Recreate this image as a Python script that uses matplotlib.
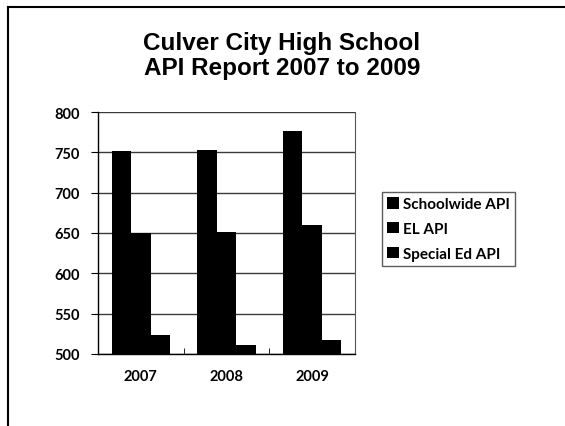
import matplotlib
matplotlib.use("Agg")
import matplotlib.pyplot as plt
import numpy as np
from matplotlib.lines import Line2D

years = ["2007", "2008", "2009"]
series_names = ["Schoolwide API", "EL API", "Special Ed API"]
schoolwide = [752, 753, 777]
el = [650, 651, 660]
special_ed = [524, 511, 517]

fig = plt.figure(figsize=(5.65, 4.27), dpi=100)
W, H = 565, 427
ax = fig.add_axes([98 / W, 1 - 355 / H, (355 - 98) / W, (355 - 113) / H])

x = np.arange(len(years))
bw = 0.227
for i, vals in enumerate([schoolwide, el, special_ed]):
    ax.bar(x + (i - 1) * bw, [v - 500 for v in vals], bw, bottom=500, color="black",
           label=series_names[i], zorder=3)

ax.set_xlim(-0.5, 2.5)
ax.set_ylim(500, 800)
ax.set_yticks(range(500, 801, 50))
ax.set_xticks(x)
ax.set_xticklabels(years)
ax.grid(axis="y", color="#3a3a3a", linewidth=1, zorder=1)
ax.set_axisbelow(True)
ax.spines["top"].set_visible(False)
ax.spines["right"].set_color("#555555")
ax.spines["left"].set_linewidth(1)
ax.spines["bottom"].set_linewidth(1)
ax.set_xticks([0.5, 1.5], minor=True)
ax.tick_params(axis="x", which="major", length=0, pad=11)
ax.tick_params(axis="x", which="minor", length=4, direction="in")
ax.tick_params(axis="y", length=5, direction="out", pad=8)
for lab in ax.get_xticklabels() + ax.get_yticklabels():
    lab.set_fontfamily("Lato")
    lab.set_fontweight("bold")
    lab.set_fontsize(10.5)

fig.text(282 / W, 1 - 56 / H, "Culver City High School\nAPI Report 2007 to 2009",
         ha="center", va="center", fontsize=17.5, fontweight="bold",
         family="Liberation Sans", linespacing=1.1)

leg = ax.legend(loc="upper left", bbox_to_anchor=(382 / W, 1 - 193 / H),
                bbox_transform=fig.transFigure, frameon=True, fancybox=False,
                edgecolor="#333333", handlelength=0.75, handleheight=0.75,
                handletextpad=0.25, borderpad=0.35, labelspacing=0.7,
                borderaxespad=0,
                prop={"family": "Lato", "weight": "bold", "size": 11})
leg.get_frame().set_linewidth(1)

fig.add_artist(Line2D([8 / W, 8 / W], [0, 1 - 8 / H], transform=fig.transFigure,
                      color="black", linewidth=1.5))
fig.add_artist(Line2D([8 / W, 1], [1 - 8 / H, 1 - 8 / H], transform=fig.transFigure,
                      color="black", linewidth=1.5))

fig.savefig("out.png", dpi=100)
